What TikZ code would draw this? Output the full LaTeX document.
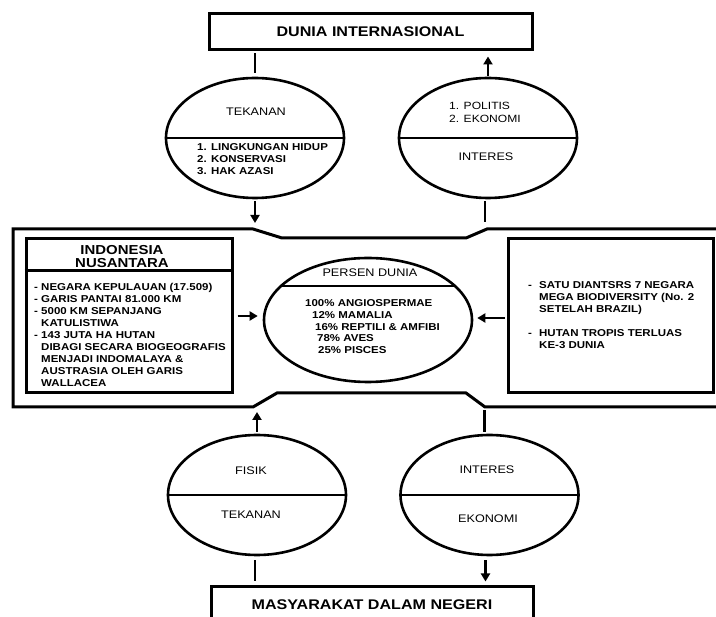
\documentclass[tikz,border=0pt]{standalone}
\usepackage{fontspec}
\setmainfont[FakeStretch=1.15]{Liberation Sans}
\usetikzlibrary{arrows.meta,shapes.geometric,calc}
\begin{document}
\begin{tikzpicture}[x=1pt,y=-1pt,
  lw/.style={line width=2.6pt},
  conn/.style={line width=2.7pt},
  arr/.style={conn,-{Triangle[width=9pt,length=8pt]}},
  oval/.style={draw,ellipse,line width=2.6pt,minimum width=178pt,minimum height=120pt,inner sep=0pt},
  box/.style={draw,line width=3pt,inner sep=0pt},
  lbl/.style={font=\fontsize{11}{13}\selectfont},
  title/.style={font=\bfseries\fontsize{14}{16}\selectfont},
  lst/.style={font=\bfseries\fontsize{10}{12}\selectfont,align=left,inner sep=0pt,anchor=north west},
  rlst/.style={font=\fontsize{10.5}{13}\selectfont,align=left,inner sep=0pt,anchor=north west},
]
\clip (0,0) rectangle (716,617);
\fill[white] (0,0) rectangle (716,617);

% top and bottom boxes
\node[box,minimum width=323pt,minimum height=36pt,title] (dunia) at (370.5,32) {DUNIA INTERNASIONAL};
\node[box,minimum width=322pt,minimum height=36pt,title] (masy) at (372,605) {MASYARAKAT DALAM NEGERI};

% upper ellipses
\node[oval] (tek) at (255,138) {};
\draw[lw] (tek.west) -- (tek.east);
\node[lbl] (tekl) at (256,112) {TEKANAN};
\node[lst] (tekli) at (197,143.4) {1. LINGKUNGAN HIDUP\\2. KONSERVASI\\3. HAK AZASI};

\node[oval] (int) at (488,138) {};
\draw[lw] (int.west) -- (int.east);
\node[rlst] (intli) at (449,102.2) {1. POLITIS\\2. EKONOMI};
\node[lbl] (intl) at (486,157) {INTERES};

% lower ellipses
\node[oval] (fis) at (257,495) {};
\draw[lw] (fis.west) -- (fis.east);
\node[lbl] (fisl) at (251,471) {FISIK};
\node[lbl] (fisl2) at (251,515) {TEKANAN};

\node[oval] (eko) at (489.5,495) {};
\draw[lw] (eko.west) -- (eko.east);
\node[lbl] (ekol) at (487,470) {INTERES};
\node[lbl] (ekol2) at (488,519) {EKONOMI};

% outer frame
\draw[line width=3pt,line join=miter]
  (740,229) -- (487,229) -- (466,238) -- (282,238) -- (253,229) -- (13,229)
  -- (13,407) -- (253,407) -- (277,393) -- (466,393) -- (485,407) -- (740,407);
\coordinate (ftop) at (0,229);
\coordinate (fbot) at (0,407);

% Indonesia box
\node[box,minimum width=206pt,minimum height=154pt] (indo) at (129,316) {};
\draw[line width=2.8pt] ($(indo.north west)+(0,33)$) -- ($(indo.north east)+(0,33)$);
\node[font=\bfseries\fontsize{13}{13}\selectfont,align=center,inner sep=0pt] (indot) at (122,256.5) {INDONESIA\\NUSANTARA};
\node[lst] (indol) at (34,283.4) {- NEGARA KEPULAUAN (17.509)\\
- GARIS PANTAI 81.000 KM\\
- 5000 KM SEPANJANG\\
\hphantom{- }KATULISTIWA\\
- 143 JUTA HA HUTAN\\
\hphantom{- }DIBAGI SECARA BIOGEOGRAFIS\\
\hphantom{- }MENJADI INDOMALAYA \&\\
\hphantom{- }AUSTRASIA OLEH GARIS\\
\hphantom{- }WALLACEA};

% central ellipse
\node[draw,ellipse,line width=2.6pt,minimum width=208pt,minimum height=124pt,inner sep=0pt] (pc) at (368,320) {};
\draw[lw] ($(pc.center)+(-86,-34)$) -- ($(pc.center)+(86,-34)$);
\node[lbl] (pcl) at (370,273) {PERSEN DUNIA};
\node[lst,font=\bfseries\fontsize{10}{11.8}\selectfont] (pcli) at (305,299.4) {100\% ANGIOSPERMAE\\
\hspace*{7pt}12\% MAMALIA\\
\hspace*{10pt}16\% REPTILI \& AMFIBI\\
\hspace*{12pt}78\% AVES\\
\hspace*{13pt}25\% PISCES};

% right box
\node[box,minimum width=205pt,minimum height=154pt] (rb) at (610.5,316) {};
\node[lst] (rbl) at (528,281.4) {\makebox[11pt][l]{-}SATU DIANTSRS 7 NEGARA\\
\hspace*{11pt}MEGA BIODIVERSITY (No. 2\\
\hspace*{11pt}SETELAH BRAZIL)\\[12pt]
\makebox[11pt][l]{-}HUTAN TROPIS TERLUAS\\
\hspace*{11pt}KE-3 DUNIA};

% connectors
\draw[conn,shorten <=4pt,shorten >=2pt] (tek.north) -- (tek.north |- dunia.south);
\draw[arr,shorten <=1pt,shorten >=5pt] (int.north) -- (int.north |- dunia.south);
\draw[arr,shorten <=2pt,shorten >=6pt] (tek.south) -- (tek.south |- ftop);
\draw[conn,shorten <=2pt,shorten >=7pt] ([xshift=-3pt]int.south) -- ([xshift=-3pt]int.south |- ftop);
\draw[arr,shorten <=4pt,shorten >=5pt] (indo.east) -- (indo.east -| pc.west);
\draw[arr,shorten <=2pt,shorten >=4pt] ([yshift=-2pt]rb.west) -- ([yshift=-2pt]rb.west -| pc.east);
\draw[arr,shorten <=2pt,shorten >=5pt] (fis.north) -- (fis.north |- fbot);
\draw[conn,shorten <=2pt,shorten >=3pt] ([xshift=-5pt]eko.north) -- ([xshift=-5pt]eko.north |- fbot);
\draw[conn,shorten <=4pt,shorten >=4pt] ([xshift=-2pt]fis.south) -- ([xshift=-2pt]fis.south |- masy.north);
\draw[arr,shorten <=4pt,shorten >=4pt] ([xshift=-4pt]eko.south) -- ([xshift=-4pt]eko.south |- masy.north);
\end{tikzpicture}
\end{document}
